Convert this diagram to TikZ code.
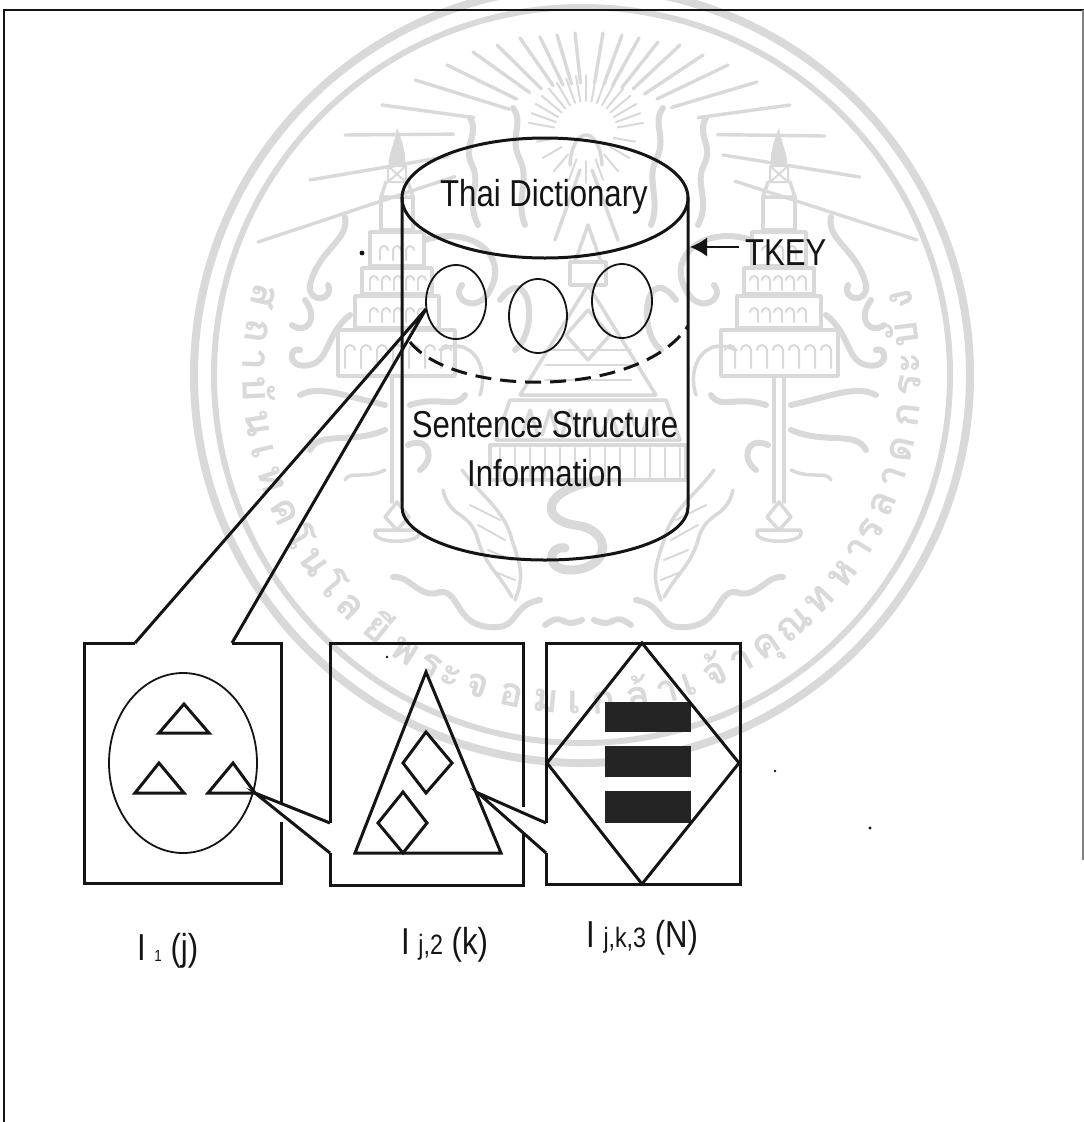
\documentclass[tikz,border=0pt]{standalone}
\usepackage{fontspec}
\newfontfamily\narfont[FakeStretch=0.83]{Liberation Sans}
\newfontfamily\thaiwm[Script=Thai]{Loma}
\usetikzlibrary{arrows.meta,calc}
\definecolor{wm}{HTML}{D9D9D9}
\definecolor{ink}{HTML}{141414}
\tikzset{
  x=1pt,y=-1pt,
  heavy/.style={draw=ink,line width=3pt,line join=miter},
  thininks/.style={draw=ink,line width=1.8pt},
  ringa/.style={draw=wm,line width=8pt},
  ringb/.style={draw=wm,line width=6pt},
  rayline/.style={draw=wm,line width=3.4pt,line cap=round},
  fineray/.style={draw=wm,line width=2pt,line cap=round},
  wmthick/.style={draw=wm,line width=6pt,line cap=round,line join=round},
  wmmid/.style={draw=wm,line width=3.5pt,line cap=round,line join=round},
  wmfine/.style={draw=wm,line width=2pt,line cap=round,line join=round},
  wmtext/.style={font=\thaiwm\bfseries\fontsize{40}{46}\selectfont,text=wm,inner sep=0pt,anchor=base},
  label/.style={font=\narfont\fontsize{37.5}{44}\selectfont,text=ink,inner sep=0pt,align=center},
  barfill/.style={fill=black!86,draw=none},
  speck/.style={fill=ink,draw=none},
}
\newcommand{\halfemblem}{%
  % tower
  \fill[wm] (397,128) .. controls (404,145) and (406,155) .. (405,165) -- (389,165) .. controls (388,155) and (394,145) .. (397,128);
  \draw[wmfine] (388,166) rectangle (406,182) (388,166) -- (406,182) (406,166) -- (388,182);
  \draw[wmmid] (386,182) -- (381,197) -- (413,197) -- (408,182);
  \draw[wmmid] (381,197) -- (381,230) -- (413,230) -- (413,197);
  \draw[wmmid] (370,232) -- (424,232) -- (424,266) -- (370,266) -- cycle;
  \draw[wmmid] (362,268) -- (432,268) -- (432,294) -- (362,294) -- cycle;
  \draw[wmmid] (355,296) -- (439,296) -- (439,328) -- (355,328) -- cycle;
  \draw[wmmid] (338,330) -- (455,330) -- (455,376) -- (338,376) -- cycle;
  \foreach \cx in {384,397,410}{\draw[wmfine] (\cx-4,260) -- (\cx-4,250) arc[start angle=180,end angle=360,radius=4];}
  \foreach \cx in {374,386,398,410,422}{\draw[wmfine] (\cx-4,290) -- (\cx-4,280) arc[start angle=180,end angle=360,radius=4];\draw[wmfine] (\cx-4,322) -- (\cx-4,312) arc[start angle=180,end angle=360,radius=4];}
  \foreach \cx in {350,366,382,398,414,430,446}{\draw[wmfine] (\cx-5,368) -- (\cx-5,350) arc[start angle=180,end angle=360,radius=5];}
  % pole and knob
  \draw[wmmid] (392,378) -- (392,502) (402,378) -- (402,502);
  \draw[wmmid] (397,502) -- (385,517) -- (397,530) -- (409,517) -- cycle;
  \draw[wmmid] (376,530) .. controls (366,545) and (428,545) .. (418,530) -- cycle;
  % scrolls around the pole
  \draw[wmthick] (345,217) .. controls (350,240) and (318,250) .. (310,285) .. controls (308,305) and (335,300) .. (328,285);
  \draw[wmthick] (305,300) .. controls (320,320) and (305,335) .. (292,325);
  \draw[wmthick] (350,315) .. controls (325,335) and (330,360) .. (310,365) .. controls (285,370) and (290,345) .. (300,350);
  \draw[wmthick] (385,405) .. controls (340,395) and (320,385) .. (300,395);
  \draw[wmthick] (385,430) .. controls (350,445) and (320,430) .. (310,450);
  \draw[wmmid] (385,470) .. controls (365,480) and (350,470) .. (345,480);
  \draw[wmthick] (410,405) .. controls (440,395) and (455,410) .. (465,395);
  \draw[wmthick] (408,445) .. controls (430,435) and (435,460) .. (420,470);
  % inner flames
  \draw[wmthick] (470,118) .. controls (480,135) and (462,145) .. (472,165) .. controls (482,185) and (465,200) .. (478,225);
  \draw[wmthick] (513,108) .. controls (525,125) and (508,135) .. (520,160) .. controls (530,180) and (515,200) .. (525,225);
  \draw[wmthick] (425,240) .. controls (470,225) and (510,255) .. (490,290) .. controls (478,315) and (450,300) .. (462,285);
  \draw[wmthick] (500,300) .. controls (530,260) and (540,330) .. (515,350);
  \draw[wmmid] (440,350) .. controls (470,335) and (490,365) .. (480,395);
  % naga
  \draw[wmmid] (443,490) .. controls (450,520) and (470,510) .. (478,540) .. controls (485,565) and (500,575) .. (512,597);
  \draw[wmmid] (462,470) .. controls (480,495) and (505,510) .. (512,540) .. controls (520,565) and (525,575) .. (515,600);
  \draw[wmfine] (470,505) -- (500,520) (478,525) -- (505,540) (488,550) -- (512,560) (495,572) -- (515,580);
  \draw[wmthick] (393,577) .. controls (410,575) and (420,600) .. (440,592) .. controls (460,590) and (455,625) .. (490,627) .. controls (520,630) and (510,605) .. (540,600);
  \draw[wmthick] (545,625) .. controls (565,610) and (560,630) .. (582,620);
}
\begin{document}
\begin{tikzpicture}
\useasboundingbox (0,0) rectangle (1084,1122);
\fill[white] (0,0) rectangle (1084,1122);
% watermark
\begin{scope}
  \clip (0,0) rectangle (1084,1122);
  \draw[ringa] (582,375) circle[radius=388];
  \draw[ringb] (582,375) circle[radius=368];
  \def\wmang{197}
  \foreach \t/\w [count=\i] in {ส/1,ถ/1,า/.65,บั/1,น/1,เ/.65,ท/1,ค/1,โ/.65,น/1,โ/.65,ล/1,ยี/1,พ/1,ร/.65,ะ/.65,จ/1,อ/1,ม/1,เ/.65,ก/1,ล้/1,า/.65,เ/.65,จ้/1,า/.65,คุ/1,ณ/1,ท/1,ห/1,า/.65,ร/.65,ล/1,า/.65,ด/1,ก/1,ร/.65,ะ/.65,บั/1,ง/1}{
    \pgfmathsetmacro\midang{\wmang-3.07*\w}
    \pgfmathsetmacro\rotang{90-\midang}
    \node[wmtext,rotate=\rotang] (wmt\i) at ({582+339*cos(\midang)},{375+339*sin(\midang)}) {\t};
    \pgfmathsetmacro\nxtang{\wmang-6.14*\w}
    \xdef\wmang{\nxtang}
  }
  \coordinate (sun) at (586,133);
  \foreach \ex/\ey/\fr in {415/80/.45,382/105/.55,345/135/.55,310/180/.5,258/242/.4,790/105/.55,825/136/.55,860/177/.5,917/240/.45,757/82/.5,728/65/.5,703/55/.5,680/45/.5,658/42/.5,639/38/.5,622/35/.5,603/33/.5,447/65/.5,473/52/.5,497/45/.5,520/38/.5,540/37/.5,557/35/.5,575/33/.5}{
    \draw[rayline] ($(sun)!\fr!(\ex,\ey)$) -- (\ex,\ey);
  }
  \foreach \a in {-170,-160,...,-10}{
    \draw[fineray] ($(sun)+(\a:32)$) -- ($(sun)+(\a:58)$);
  }
  \foreach \a in {10,30,...,170}{
    \draw[fineray] ($(sun)+(\a:28)$) -- ($(sun)+(\a:50)$);
  }
  \draw[wmmid] (570,165) .. controls (572,125) and (600,125) .. (602,165);
  \draw[wmmid] (580,170) -- (555,240) (592,170) -- (618,240);
  \halfemblem
  \begin{scope}[shift={(1176,0)},xscale=-1]
    \halfemblem
  \end{scope}
  % central pagoda
  \draw[wmmid] (588,225) -- (575,262) -- (601,262) -- cycle;
  \draw[wmmid] (570,262) rectangle (606,285);
  \draw[wmmid] (588,285) -- (520,395) -- (656,395) -- cycle;
  \draw[wmmid] (588,310) -- (610,335) -- (588,360) -- (566,335) -- cycle;
  \foreach \yy in {350,365,380}{\draw[wmfine] (545,\yy) -- (631,\yy);}
  \draw[wmmid] (510,400) -- (666,400) -- (680,440) -- (496,440) -- cycle;
  \foreach \cx in {530,550,570,590,610,630,650}{\draw[wmmid] (\cx-8,435) -- (\cx,410) -- (\cx+8,435);}
  \draw[wmmid] (490,445) rectangle (686,480);
  \foreach \cx in {500,515,...,680}{\draw[wmfine] (\cx,448) -- (\cx,477);}
  % central serpent
  \draw[draw=wm,line width=9pt,line cap=round] (600,480) .. controls (540,490) and (540,520) .. (575,525) .. controls (615,530) and (610,570) .. (570,570) .. controls (545,570) and (548,545) .. (565,548);
\end{scope}
% frame
\draw[draw=ink,line width=1.8pt] (4,1122) -- (4,10) -- (1084,10);
\draw[draw=black!50,line width=1.2pt] (1083,10) -- (1083,860);
% cylinder
\draw[heavy] (402,197) -- (402,507) arc[start angle=180,end angle=0,x radius=143,y radius=53] -- (688,197);
\draw[heavy] (545,198) ellipse[x radius=143,y radius=60];
\draw[heavy,dash pattern=on 16pt off 9pt] (410,342) .. controls (455,398) and (640,398) .. (688,326);
\node[label] (dict) at (544,197) {Thai Dictionary};
\node[label] (sent) at (545,449) {Sentence Structure\\[5pt]Information};
% circles
\draw[thininks] (456,302) ellipse[x radius=30,y radius=37];
\draw[thininks] (538,316) ellipse[x radius=29,y radius=37];
\draw[thininks] (622,301) ellipse[x radius=30,y radius=37];
\coordinate (c1) at (426,309);
% TKEY
\node[label,anchor=west] (tkey) at (745,253) {TKEY};
\coordinate (tktail) at (739,247);
\coordinate (tktip) at (690,247);
\draw[draw=ink,line width=1.6pt,-{Latex[length=17pt,width=19pt]}] (tktail) -- (tktip);
% box 1
\draw[heavy] (135,643) -- (84,643) -- (84,883) -- (281,883) -- (281,822);
\draw[heavy] (281,803) -- (281,643) -- (232,643);
\draw[heavy] (135,643) -- (c1) -- (232,643);
\draw[thininks] (183,763) ellipse[x radius=74,y radius=90];
\draw[heavy] (184,704) -- (209,733) -- (159,733) -- cycle;
\draw[heavy] (159,763) -- (184,793) -- (135,793) -- cycle;
\draw[heavy] (233,763) -- (255,793) -- (208,793) -- cycle;
% box 2
\draw[heavy] (330,823) -- (330,643) -- (523,643) -- (523,807);
\draw[heavy] (523,833) -- (523,885) -- (330,885) -- (330,853);
\draw[heavy] (330,823) -- (255,793) -- (330,853);
\draw[heavy] (426,672) -- (501,853) -- (355,853) -- cycle;
\draw[heavy] (426,732) -- (452,763) -- (426,793) -- (403,763) -- cycle;
\draw[heavy] (403,792) -- (427,823) -- (403,853) -- (378,823) -- cycle;
% box 3
\draw[heavy] (546,823) -- (546,643) -- (740,643) -- (740,884) -- (546,884) -- (546,853);
\draw[heavy] (546,823) -- (478,793) -- (546,853);
\draw[barfill] (605,702) rectangle (691,732);
\draw[barfill] (605,746) rectangle (691,777);
\draw[barfill] (605,791) rectangle (691,823);
\draw[heavy] (642,643) -- (739,763) -- (642,884) -- (547,763) -- cycle;
% labels
\node[label,anchor=west] (l1) at (137,951) {I {\fontsize{16}{20}\selectfont\raisebox{-1pt}{1}} (j)};
\node[label,anchor=west] (l2) at (401,945) {I {\fontsize{28}{30}\selectfont j,2} (k)};
\node[label,anchor=west] (l3) at (586,938) {I {\fontsize{28}{30}\selectfont j,k,3} (N)};
% specks
\fill[speck] (362,253) circle[radius=2.4];
\fill[speck] (387,657) circle[radius=1.4];
\fill[speck] (775,771) circle[radius=1.4];
\fill[speck] (870,828) circle[radius=1.7];
\end{tikzpicture}
\end{document}
